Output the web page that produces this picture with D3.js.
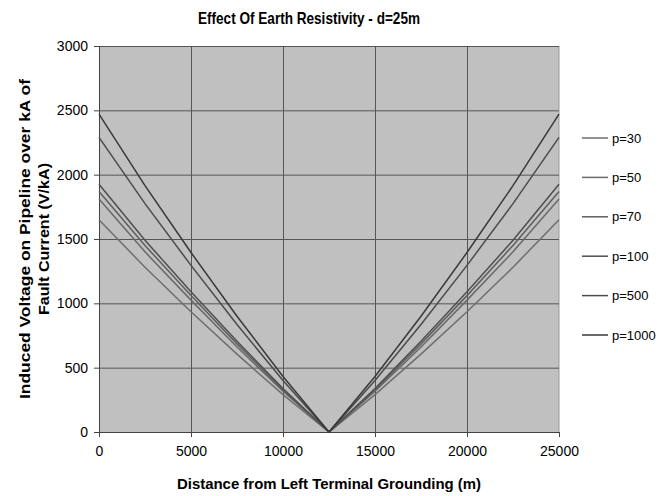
<!DOCTYPE html>
<html>
<head>
<meta charset="utf-8">
<script src="https://cdn.jsdelivr.net/npm/d3@7"></script>
<style>
  body { margin: 0; background: #fff; }
  text { font-family: "Liberation Sans", Arial, sans-serif; fill: #000; }
</style>
</head>
<body>
<div id="chart"></div>
<script>
// distances along the pipeline (m)
const distances = [0, 2500, 5000, 7500, 10000, 12500, 15000, 17500, 20000, 22500, 25000];
const seriesNames = ["p=30", "p=50", "p=70", "p=100", "p=500", "p=1000"];
// induced voltage (V/kA)
const p30   = [1650, 1280, 935, 605, 290, 0, 290, 605, 935, 1280, 1650];
const p50   = [1810, 1400, 1025, 660, 318, 0, 318, 660, 1025, 1400, 1810];
const p70   = [1870, 1450, 1060, 685, 328, 0, 328, 685, 1060, 1450, 1870];
const p100  = [1925, 1490, 1090, 705, 338, 0, 338, 705, 1090, 1490, 1925];
const p500  = [2290, 1775, 1295, 835, 400, 0, 400, 835, 1295, 1775, 2290];
const p1000 = [2470, 1915, 1395, 900, 432, 0, 432, 900, 1395, 1915, 2470];
const seriesValues = [p30, p50, p70, p100, p500, p1000];
const seriesColors = ["#6e6e6e", "#686868", "#5e5e5e", "#4e4e4e", "#4a4a4a", "#383838"];
const xTicks = [0, 5000, 10000, 15000, 20000, 25000];
const yTicks = [0, 500, 1000, 1500, 2000, 2500, 3000];

const W = 663, H = 496;
const margin = { top: 46, left: 99, right: 104, bottom: 64 };
const width = W - margin.left - margin.right;
const height = H - margin.top - margin.bottom;

const svg = d3.select("#chart").append("svg")
    .attr("width", W)
    .attr("height", H);

const g = svg.append("g")
    .attr("transform", `translate(${margin.left},${margin.top})`);

const x = d3.scaleLinear().domain([0, 25000]).range([0, width]);
const y = d3.scaleLinear().domain([0, 3000]).range([height, 0]);

// plot background
g.append("rect")
    .attr("width", width)
    .attr("height", height)
    .attr("fill", "#c0c0c0");

// right border
g.append("line")
    .attr("x1", width).attr("x2", width)
    .attr("y1", 0).attr("y2", height)
    .attr("stroke", "#9a9a9a");

// grid
g.append("g")
    .selectAll("line")
    .data(yTicks.filter(d => d > 0))
    .enter().append("line")
    .attr("x1", 0).attr("x2", width)
    .attr("y1", d => y(d) + 0.5).attr("y2", d => y(d) + 0.5)
    .attr("stroke", "#555");

g.append("g")
    .selectAll("line")
    .data(xTicks.filter(d => d > 0 && d < 25000))
    .enter().append("line")
    .attr("x1", d => x(d) + 0.5).attr("x2", d => x(d) + 0.5)
    .attr("y1", 0).attr("y2", height + 5)
    .attr("stroke", "#555");

// axes
const yAxis = g.append("g")
    .call(d3.axisLeft(y).tickValues(yTicks).tickSize(5).tickPadding(6).tickFormat(d3.format("d")));
const xAxis = g.append("g")
    .attr("transform", `translate(0,${height})`)
    .call(d3.axisBottom(x).tickValues(xTicks).tickSize(5).tickPadding(9).tickFormat(d3.format("d")));

[xAxis, yAxis].forEach(ax => {
    ax.select(".domain").attr("stroke", "#444");
    ax.selectAll(".tick line").attr("stroke", "#444");
    ax.selectAll(".tick text")
        .style("font-family", "'Liberation Sans', Arial, sans-serif")
        .style("font-size", "14px")
        .attr("fill", "#000");
});

// lines
const line = d3.line()
    .x((d, i) => x(distances[i]))
    .y(d => y(d));

seriesValues.forEach((vals, k) => {
    g.append("path")
        .datum(vals)
        .attr("fill", "none")
        .attr("stroke", seriesColors[k])
        .attr("stroke-width", 1.5)
        .attr("d", line);
});

// legend
const legend = svg.selectAll(".legend")
    .data(seriesNames)
    .enter().append("g")
    .attr("class", "legend")
    .attr("transform", (d, i) => `translate(582,${138 + i * 39.4})`);

legend.append("line")
    .attr("x1", 0).attr("x2", 26)
    .attr("y1", 0).attr("y2", 0)
    .attr("stroke", (d, i) => seriesColors[i])
    .attr("stroke-width", 1.5);

legend.append("text")
    .attr("x", 30)
    .attr("dy", "0.35em")
    .style("font-size", "13px")
    .text(d => d);

// titles
svg.append("text")
    .attr("x", 309)
    .attr("y", 24)
    .attr("text-anchor", "middle")
    .style("font-size", "17px")
    .style("font-weight", "bold")
    .attr("textLength", 222)
    .attr("lengthAdjust", "spacingAndGlyphs")
    .text("Effect Of Earth Resistivity - d=25m");

svg.append("text")
    .attr("x", margin.left + width / 2)
    .attr("y", 489)
    .attr("text-anchor", "middle")
    .style("font-size", "15px")
    .style("font-weight", "bold")
    .attr("textLength", 304)
    .attr("lengthAdjust", "spacingAndGlyphs")
    .text("Distance from Left Terminal Grounding (m)");

const yTitle = svg.append("g")
    .attr("transform", `translate(0,${margin.top + height / 2}) rotate(-90)`);
yTitle.append("text")
    .attr("x", 0).attr("y", 30)
    .attr("text-anchor", "middle")
    .style("font-size", "15px")
    .style("font-weight", "bold")
    .attr("textLength", 320)
    .attr("lengthAdjust", "spacingAndGlyphs")
    .text("Induced Voltage on Pipeline over kA of");
yTitle.append("text")
    .attr("x", 0).attr("y", 49)
    .attr("text-anchor", "middle")
    .style("font-size", "15px")
    .style("font-weight", "bold")
    .attr("textLength", 152)
    .attr("lengthAdjust", "spacingAndGlyphs")
    .text("Fault Current (V/kA)");
</script>
</body>
</html>
